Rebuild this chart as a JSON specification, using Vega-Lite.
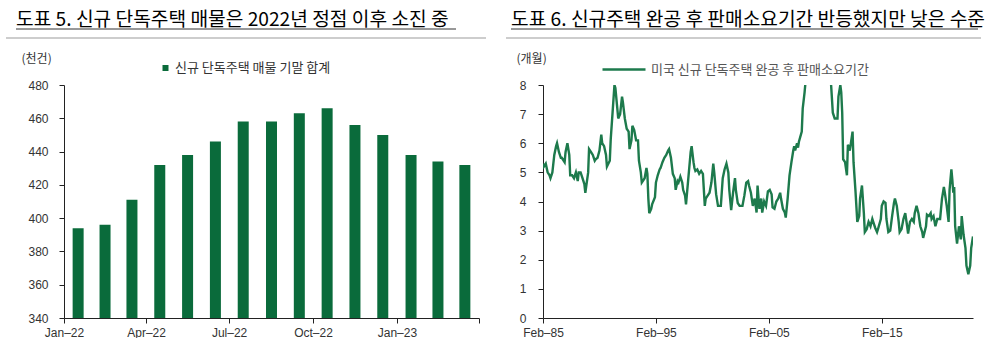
{
  "$schema": "https://vega.github.io/schema/vega-lite/v6.json",
  "background": "white",
  "padding": {"left": 5, "top": 11, "right": 0, "bottom": 0},
  "spacing": 18,
  "resolve": {"scale": {"color": "independent", "x": "independent", "y": "independent"}, "legend": {"color": "independent"}},
  "config": {
    "view": {"stroke": null},
    "font": "Liberation Sans",
    "axis": {"domainColor": "#222", "tickColor": "#222", "labelColor": "#333", "labelFontSize": 12, "labelFont": "Liberation Sans", "grid": false, "tickSize": 5, "domainWidth": 1, "tickWidth": 1, "labelFlush": false, "labelOverlap": false},
    "title": {"font": "Noto Sans CJK KR", "fontSize": 19.2, "fontWeight": "normal", "color": "#000", "anchor": "start", "frame": "group", "baseline": "bottom"},
    "legend": {"labelFont": "Noto Sans CJK KR", "labelFontSize": 13, "padding": 0, "offset": 0, "labelLimit": 400}
  },
  "hconcat": [
    {
      "width": 415,
      "height": 233,
      "title": {"text": "도표 5. 신규 단독주택 매물은 2022년 정점 이후 소진 중", "dx": -48, "offset": -2},
      "layer": [
        {
          "data": {"values": [
            {"date": "2022-01", "value": 394},
            {"date": "2022-02", "value": 396},
            {"date": "2022-03", "value": 411},
            {"date": "2022-04", "value": 432},
            {"date": "2022-05", "value": 438},
            {"date": "2022-06", "value": 446},
            {"date": "2022-07", "value": 458},
            {"date": "2022-08", "value": 458},
            {"date": "2022-09", "value": 463},
            {"date": "2022-10", "value": 466},
            {"date": "2022-11", "value": 456},
            {"date": "2022-12", "value": 450},
            {"date": "2023-01", "value": 438},
            {"date": "2023-02", "value": 434},
            {"date": "2023-03", "value": 432}
          ]},
          "mark": {"type": "bar", "width": 11, "clip": true},
          "encoding": {
            "x": {"field": "date", "type": "temporal", "timeUnit": "utcyearmonth", "bandPosition": 0.5,
              "scale": {"type": "utc", "domain": [{"year": 2022, "month": 1, "date": 1, "utc": true}, {"year": 2023, "month": 4, "date": 1, "utc": true}]},
              "axis": {"title": null, "values": [
                {"year": 2022, "month": 1, "date": 1, "utc": true},
                {"year": 2022, "month": 4, "date": 1, "utc": true},
                {"year": 2022, "month": 7, "date": 1, "utc": true},
                {"year": 2022, "month": 10, "date": 1, "utc": true},
                {"year": 2023, "month": 1, "date": 1, "utc": true},
                {"year": 2023, "month": 4, "date": 1, "utc": true}],
                "labelExpr": "utcmonth(datum.value) == 3 && utcyear(datum.value) == 2023 ? '' : utcFormat(datum.value, '%b') + '–' + utcFormat(datum.value, '%y')",
                "labelPadding": 4}},
            "y": {"field": "value", "type": "quantitative",
              "scale": {"domain": [340, 480], "nice": false, "zero": false},
              "axis": {"values": [340, 360, 380, 400, 420, 440, 460, 480], "labelPadding": 11,
                "title": "(천건)", "titleAngle": 0, "titleAlign": "left", "titleBaseline": "middle", "titleX": -43, "titleY": -27,
                "titleFont": "Noto Sans CJK KR", "titleFontSize": 12, "titleFontWeight": "normal", "titleColor": "#333"}},
            "color": {"datum": "신규 단독주택 매물 기말 합계", "scale": {"range": ["#0a6b3b"]},
              "legend": {"title": null, "orient": "none", "legendX": 95, "legendY": -23.5, "symbolType": "square", "symbolSize": 36, "symbolStrokeWidth": 0, "labelOffset": 3, "labelColor": "#333"}}
          }
        },
        {
          "data": {"values": [{"kind": "separator"}]},
          "mark": {"type": "rule", "color": "#bdbdbd", "strokeWidth": 1.5},
          "encoding": {"x": {"value": -58}, "x2": {"value": 422}, "y": {"value": -47}}
        },
        {
          "data": {"values": [{"kind": "underline"}]},
          "mark": {"type": "rule", "color": "#333", "strokeWidth": 1},
          "encoding": {"x": {"value": -48}, "x2": {"value": 392}, "y": {"value": -56}}
        }
      ]
    },
    {
      "width": 430,
      "height": 233,
      "title": {"text": "도표 6. 신규주택 완공 후 판매소요기간 반등했지만 낮은 수준", "dx": -32, "offset": -2},
      "layer": [
        {
          "data": {"values": [
            {"month": "1985-02", "months": 5.3}, {"month": "1985-03", "months": 5.2}, {"month": "1985-05", "months": 5.3}, {"month": "1985-07", "months": 5.0},
            {"month": "1985-09", "months": 4.9}, {"month": "1985-10", "months": 4.8}, {"month": "1985-12", "months": 5.0}, {"month": "1986-02", "months": 5.6},
            {"month": "1986-04", "months": 5.9}, {"month": "1986-05", "months": 6.0}, {"month": "1986-07", "months": 5.7}, {"month": "1986-09", "months": 5.5},
            {"month": "1986-10", "months": 5.5}, {"month": "1987-01", "months": 5.35}, {"month": "1987-02", "months": 5.7}, {"month": "1987-04", "months": 6.0},
            {"month": "1987-06", "months": 5.6}, {"month": "1987-07", "months": 4.9}, {"month": "1987-09", "months": 4.9}, {"month": "1987-11", "months": 4.8},
            {"month": "1988-01", "months": 5.0}, {"month": "1988-03", "months": 4.7}, {"month": "1988-04", "months": 5.0}, {"month": "1988-06", "months": 5.0},
            {"month": "1988-08", "months": 4.8}, {"month": "1988-10", "months": 4.6}, {"month": "1988-11", "months": 4.3}, {"month": "1989-02", "months": 5.0},
            {"month": "1989-03", "months": 5.8}, {"month": "1989-05", "months": 5.7}, {"month": "1989-07", "months": 5.6}, {"month": "1989-09", "months": 5.4},
            {"month": "1989-10", "months": 5.45}, {"month": "1989-12", "months": 5.5}, {"month": "1990-02", "months": 5.75}, {"month": "1990-04", "months": 6.3},
            {"month": "1990-05", "months": 6.0}, {"month": "1990-07", "months": 5.9}, {"month": "1990-09", "months": 5.6}, {"month": "1990-10", "months": 5.2},
            {"month": "1991-01", "months": 5.4}, {"month": "1991-02", "months": 6.15}, {"month": "1991-04", "months": 7.05}, {"month": "1991-06", "months": 8.0},
            {"month": "1991-07", "months": 7.9}, {"month": "1991-09", "months": 7.2}, {"month": "1991-10", "months": 6.85}, {"month": "1991-12", "months": 7.0},
            {"month": "1992-02", "months": 7.6}, {"month": "1992-03", "months": 7.4}, {"month": "1992-05", "months": 6.85}, {"month": "1992-07", "months": 6.5},
            {"month": "1992-09", "months": 6.4}, {"month": "1992-10", "months": 5.8}, {"month": "1992-12", "months": 6.1}, {"month": "1993-01", "months": 6.6},
            {"month": "1993-03", "months": 6.45}, {"month": "1993-05", "months": 6.1}, {"month": "1993-07", "months": 6.1}, {"month": "1993-08", "months": 5.4},
            {"month": "1993-10", "months": 5.0}, {"month": "1993-11", "months": 4.65}, {"month": "1994-02", "months": 4.8}, {"month": "1994-04", "months": 5.15},
            {"month": "1994-05", "months": 4.95}, {"month": "1994-06", "months": 4.1}, {"month": "1994-07", "months": 3.6}, {"month": "1994-09", "months": 3.75},
            {"month": "1994-10", "months": 3.9}, {"month": "1995-01", "months": 4.15}, {"month": "1995-02", "months": 4.65}, {"month": "1995-04", "months": 4.9},
            {"month": "1995-06", "months": 5.1}, {"month": "1995-07", "months": 5.15}, {"month": "1995-09", "months": 5.35}, {"month": "1995-11", "months": 5.5},
            {"month": "1996-01", "months": 5.6}, {"month": "1996-03", "months": 5.75}, {"month": "1996-04", "months": 5.8}, {"month": "1996-06", "months": 5.5},
            {"month": "1996-08", "months": 4.95}, {"month": "1996-10", "months": 4.8}, {"month": "1996-11", "months": 4.4}, {"month": "1997-01", "months": 4.7},
            {"month": "1997-02", "months": 4.65}, {"month": "1997-04", "months": 4.85}, {"month": "1997-06", "months": 4.65}, {"month": "1997-07", "months": 4.4},
            {"month": "1997-09", "months": 4.2}, {"month": "1997-10", "months": 3.9}, {"month": "1998-01", "months": 5.0}, {"month": "1998-03", "months": 5.7},
            {"month": "1998-04", "months": 5.9}, {"month": "1998-06", "months": 5.35}, {"month": "1998-07", "months": 5.15}, {"month": "1998-08", "months": 5.05},
            {"month": "1998-10", "months": 5.1}, {"month": "1998-12", "months": 4.95}, {"month": "1999-02", "months": 5.05}, {"month": "1999-04", "months": 4.95},
            {"month": "1999-06", "months": 3.85}, {"month": "1999-07", "months": 4.1}, {"month": "1999-09", "months": 4.2}, {"month": "1999-11", "months": 4.3},
            {"month": "2000-01", "months": 4.65}, {"month": "2000-03", "months": 5.3}, {"month": "2000-04", "months": 5.0}, {"month": "2000-06", "months": 4.25},
            {"month": "2000-08", "months": 3.85}, {"month": "2000-10", "months": 3.85}, {"month": "2000-11", "months": 3.85}, {"month": "2001-01", "months": 4.8},
            {"month": "2001-03", "months": 5.1}, {"month": "2001-05", "months": 5.3}, {"month": "2001-07", "months": 5.0}, {"month": "2001-08", "months": 4.4},
            {"month": "2001-10", "months": 3.7}, {"month": "2001-12", "months": 4.3}, {"month": "2002-02", "months": 4.8}, {"month": "2002-03", "months": 4.4},
            {"month": "2002-05", "months": 3.95}, {"month": "2002-07", "months": 3.85}, {"month": "2002-09", "months": 3.85}, {"month": "2002-10", "months": 3.85},
            {"month": "2002-12", "months": 4.2}, {"month": "2003-02", "months": 4.65}, {"month": "2003-04", "months": 4.7}, {"month": "2003-05", "months": 4.55},
            {"month": "2003-07", "months": 4.3}, {"month": "2003-09", "months": 3.85}, {"month": "2003-11", "months": 4.1}, {"month": "2004-01", "months": 3.62},
            {"month": "2004-02", "months": 4.55}, {"month": "2004-04", "months": 3.75}, {"month": "2004-06", "months": 4.1}, {"month": "2004-07", "months": 3.62},
            {"month": "2004-09", "months": 4.0}, {"month": "2004-11", "months": 3.85}, {"month": "2005-01", "months": 4.35}, {"month": "2005-03", "months": 4.4},
            {"month": "2005-05", "months": 4.25}, {"month": "2005-06", "months": 3.8}, {"month": "2005-08", "months": 3.75}, {"month": "2005-10", "months": 4.0},
            {"month": "2005-12", "months": 4.1}, {"month": "2006-02", "months": 4.3}, {"month": "2006-03", "months": 4.1}, {"month": "2006-05", "months": 3.75},
            {"month": "2006-07", "months": 3.62}, {"month": "2006-08", "months": 3.45}, {"month": "2006-10", "months": 4.1}, {"month": "2006-12", "months": 4.9},
            {"month": "2007-02", "months": 5.35}, {"month": "2007-04", "months": 5.75}, {"month": "2007-05", "months": 5.9}, {"month": "2007-06", "months": 5.75},
            {"month": "2007-08", "months": 6.0}, {"month": "2007-09", "months": 5.85}, {"month": "2007-10", "months": 6.05}, {"month": "2008-01", "months": 6.4},
            {"month": "2008-02", "months": 7.2}, {"month": "2008-04", "months": 7.75}, {"month": "2008-05", "months": 8.1}, {"month": "2008-08", "months": 9.5},
            {"month": "2008-11", "months": 11.0}, {"month": "2009-02", "months": 12.5}, {"month": "2009-05", "months": 13.5}, {"month": "2009-08", "months": 14.0},
            {"month": "2009-11", "months": 13.5}, {"month": "2010-02", "months": 12.5}, {"month": "2010-05", "months": 10.0}, {"month": "2010-08", "months": 8.1},
            {"month": "2010-10", "months": 7.05}, {"month": "2010-12", "months": 6.85}, {"month": "2011-03", "months": 6.85}, {"month": "2011-04", "months": 7.6},
            {"month": "2011-06", "months": 8.0}, {"month": "2011-07", "months": 7.75}, {"month": "2011-08", "months": 7.05}, {"month": "2011-09", "months": 5.45},
            {"month": "2011-11", "months": 5.35}, {"month": "2012-01", "months": 4.9}, {"month": "2012-02", "months": 5.95}, {"month": "2012-04", "months": 5.75},
            {"month": "2012-05", "months": 5.95}, {"month": "2012-07", "months": 6.4}, {"month": "2012-08", "months": 5.35}, {"month": "2012-10", "months": 4.4},
            {"month": "2012-12", "months": 3.3}, {"month": "2013-02", "months": 3.5}, {"month": "2013-03", "months": 4.1}, {"month": "2013-05", "months": 4.55},
            {"month": "2013-07", "months": 3.6}, {"month": "2013-08", "months": 2.95}, {"month": "2013-10", "months": 3.05}, {"month": "2013-12", "months": 3.3},
            {"month": "2014-02", "months": 3.15}, {"month": "2014-04", "months": 3.4}, {"month": "2014-05", "months": 3.3}, {"month": "2014-07", "months": 3.1},
            {"month": "2014-09", "months": 2.95}, {"month": "2014-10", "months": 3.05}, {"month": "2015-01", "months": 3.4}, {"month": "2015-02", "months": 3.85},
            {"month": "2015-04", "months": 4.0}, {"month": "2015-06", "months": 3.95}, {"month": "2015-07", "months": 3.4}, {"month": "2015-09", "months": 2.95},
            {"month": "2015-11", "months": 3.0}, {"month": "2016-01", "months": 3.5}, {"month": "2016-03", "months": 3.95}, {"month": "2016-04", "months": 4.1},
            {"month": "2016-06", "months": 3.85}, {"month": "2016-08", "months": 3.3}, {"month": "2016-09", "months": 2.95}, {"month": "2016-11", "months": 3.05},
            {"month": "2017-01", "months": 3.4}, {"month": "2017-03", "months": 3.6}, {"month": "2017-05", "months": 3.15}, {"month": "2017-06", "months": 2.9},
            {"month": "2017-08", "months": 3.3}, {"month": "2017-10", "months": 3.4}, {"month": "2017-12", "months": 3.3}, {"month": "2018-01", "months": 3.6},
            {"month": "2018-03", "months": 3.85}, {"month": "2018-05", "months": 3.6}, {"month": "2018-07", "months": 3.15}, {"month": "2018-09", "months": 2.95},
            {"month": "2018-10", "months": 2.75}, {"month": "2019-01", "months": 3.15}, {"month": "2019-02", "months": 3.55}, {"month": "2019-04", "months": 3.5},
            {"month": "2019-06", "months": 3.6}, {"month": "2019-07", "months": 3.4}, {"month": "2019-09", "months": 3.5}, {"month": "2019-11", "months": 3.15},
            {"month": "2020-01", "months": 3.4}, {"month": "2020-03", "months": 3.4}, {"month": "2020-04", "months": 3.4}, {"month": "2020-06", "months": 4.1},
            {"month": "2020-08", "months": 4.5}, {"month": "2020-09", "months": 4.3}, {"month": "2020-11", "months": 3.85}, {"month": "2021-01", "months": 3.3},
            {"month": "2021-02", "months": 4.4}, {"month": "2021-04", "months": 5.1}, {"month": "2021-05", "months": 4.75}, {"month": "2021-06", "months": 4.3},
            {"month": "2021-07", "months": 4.5}, {"month": "2021-08", "months": 3.15}, {"month": "2021-10", "months": 2.55}, {"month": "2021-12", "months": 3.15},
            {"month": "2022-01", "months": 2.9}, {"month": "2022-02", "months": 2.7}, {"month": "2022-03", "months": 3.5}, {"month": "2022-05", "months": 2.85},
            {"month": "2022-07", "months": 2.4}, {"month": "2022-08", "months": 1.8}, {"month": "2022-10", "months": 1.5}, {"month": "2022-12", "months": 1.8},
            {"month": "2023-01", "months": 2.4}, {"month": "2023-03", "months": 2.8}
          ]},
          "mark": {"type": "line", "strokeWidth": 2.4, "clip": true},
          "encoding": {
            "x": {"field": "month", "type": "temporal",
              "scale": {"type": "utc", "domain": [{"year": 1985, "month": 2, "date": 1, "utc": true}, {"year": 2023, "month": 3, "date": 1, "utc": true}]},
              "axis": {"title": null, "values": [
                {"year": 1985, "month": 2, "date": 1, "utc": true},
                {"year": 1995, "month": 2, "date": 1, "utc": true},
                {"year": 2005, "month": 2, "date": 1, "utc": true},
                {"year": 2015, "month": 2, "date": 1, "utc": true}],
                "labelExpr": "utcFormat(datum.value, '%b') + '–' + utcFormat(datum.value, '%y')",
                "labelPadding": 4}},
            "y": {"field": "months", "type": "quantitative",
              "scale": {"domain": [0, 8], "nice": false},
              "axis": {"values": [0, 1, 2, 3, 4, 5, 6, 7, 8], "labelPadding": 12,
                "title": "(개월)", "titleAngle": 0, "titleAlign": "left", "titleBaseline": "middle", "titleX": -27, "titleY": -27,
                "titleFont": "Noto Sans CJK KR", "titleFontSize": 12, "titleFontWeight": "normal", "titleColor": "#333"}},
            "color": {"datum": "미국 신규 단독주택 완공 후 판매소요기간", "scale": {"range": ["#1d7a4c"]},
              "legend": {"title": null, "orient": "none", "legendX": 58, "legendY": -38.5, "symbolType": "stroke", "symbolSize": 1849, "symbolStrokeWidth": 2.4, "labelOffset": 4, "labelColor": "#555"}}
          }
        },
        {
          "data": {"values": [{"kind": "separator"}]},
          "mark": {"type": "rule", "color": "#bdbdbd", "strokeWidth": 1.5},
          "encoding": {"x": {"value": -37}, "x2": {"value": 438}, "y": {"value": -47}}
        },
        {
          "data": {"values": [{"kind": "underline"}]},
          "mark": {"type": "rule", "color": "#333", "strokeWidth": 1},
          "encoding": {"x": {"value": -32}, "x2": {"value": 435}, "y": {"value": -56}}
        }
      ]
    }
  ]
}
